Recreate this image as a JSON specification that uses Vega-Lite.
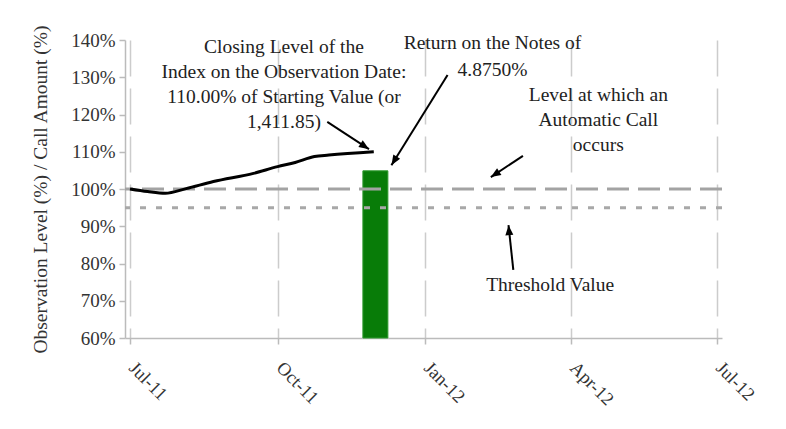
{
  "$schema": "https://vega.github.io/schema/vega-lite/v6.json",
  "width": 597,
  "height": 298,
  "autosize": {"type": "none"},
  "padding": {"left": 125, "top": 40, "right": 64, "bottom": 91},
  "background": "white",
  "config": {
    "view": {"stroke": null},
    "font": "'Liberation Serif', 'Times New Roman', serif",
    "axisY": {
      "titleFont": "'Liberation Serif', 'Times New Roman', serif",
      "titleFontSize": 19.5,
      "titleFontWeight": "normal",
      "titleColor": "#333333",
      "titlePadding": 20,
      "labelFontSize": 19,
      "labelColor": "#333333",
      "labelFont": "'Liberation Serif', 'Times New Roman', serif",
      "labelOverlap": false,
      "labelPadding": 4,
      "domainColor": "#bbbbbb",
      "domainWidth": 1.5,
      "tickColor": "#bbbbbb",
      "tickSize": 6,
      "tickWidth": 1.5,
      "grid": false
    },
    "axisX": {
      "labelAngle": 45,
      "labelAlign": "left",
      "labelBaseline": "top",
      "labelPadding": 14,
      "labelOffset": 8,
      "labelFontSize": 18.5,
      "labelColor": "#333333",
      "labelFont": "'Liberation Serif', 'Times New Roman', serif",
      "labelOverlap": false,
      "domainColor": "#bbbbbb",
      "domainWidth": 1.5,
      "tickColor": "#bbbbbb",
      "tickSize": 6,
      "tickWidth": 1.5,
      "grid": true,
      "gridColor": "#cccccc",
      "gridWidth": 1.5,
      "gridDash": [36, 12]
    }
  },
  "datasets": {
    "index": [
      {"date": "2011-07-01", "value": 100.0},
      {"date": "2011-07-12", "value": 99.3},
      {"date": "2011-07-23", "value": 98.85},
      {"date": "2011-08-05", "value": 100.1},
      {"date": "2011-08-22", "value": 102.0},
      {"date": "2011-09-16", "value": 104.2},
      {"date": "2011-10-01", "value": 106.0},
      {"date": "2011-10-12", "value": 107.1},
      {"date": "2011-10-24", "value": 108.7},
      {"date": "2011-11-02", "value": 109.1},
      {"date": "2011-11-30", "value": 110.0}
    ],
    "levels": [
      {"level": 100, "name": "Automatic call level"},
      {"level": 95, "name": "Threshold value"}
    ],
    "bar": [{"date": "2011-12-01", "value": 104.875}],
    "labels": [
      {"date": "2011-10-05", "value": 138.1, "text": "Closing Level of the"},
      {"date": "2011-10-05", "value": 131.4, "text": "Index on the Observation Date:"},
      {"date": "2011-10-05", "value": 124.7, "text": "110.00% of Starting Value (or"},
      {"date": "2011-10-05", "value": 118.0, "text": "1,411.85)"},
      {"date": "2012-02-12", "value": 139.2, "text": "Return on the Notes of"},
      {"date": "2012-02-12", "value": 131.9, "text": "4.8750%"},
      {"date": "2012-04-18", "value": 125.2, "text": "Level at which an"},
      {"date": "2012-04-18", "value": 118.5, "text": "Automatic Call"},
      {"date": "2012-04-18", "value": 111.8, "text": "occurs"},
      {"date": "2012-03-19", "value": 74.2, "text": "Threshold Value"}
    ],
    "arrows": [
      {"x1": "2011-11-01", "y1": 118.0, "x2": "2011-11-27", "y2": 110.7, "angle": 123},
      {"x1": "2012-01-15", "y1": 130.6, "x2": "2011-12-11", "y2": 106.4, "angle": 212},
      {"x1": "2012-03-02", "y1": 108.9, "x2": "2012-02-11", "y2": 103.2, "angle": 237},
      {"x1": "2012-02-25", "y1": 78.3, "x2": "2012-02-22", "y2": 90.3, "angle": 355}
    ]
  },
  "layer": [
    {
      "data": {"name": "bar"},
      "mark": {"type": "bar", "width": 25, "fill": "#087c08", "stroke": "#2f9a2f", "strokeWidth": 1},
      "encoding": {
        "x": {
          "field": "date", "type": "temporal",
          "scale": {"type": "utc", "domain": [{"year": 2011, "month": 7, "date": 1, "utc": true}, {"year": 2012, "month": 7, "date": 1, "utc": true}]},
          "axis": {
            "title": null,
            "values": [
              {"year": 2011, "month": 7, "date": 1, "utc": true},
              {"year": 2011, "month": 10, "date": 1, "utc": true},
              {"year": 2012, "month": 1, "date": 1, "utc": true},
              {"year": 2012, "month": 4, "date": 1, "utc": true},
              {"year": 2012, "month": 7, "date": 1, "utc": true}
            ],
            "format": "%b-%y"
          }
        },
        "y": {
          "field": "value", "type": "quantitative",
          "scale": {"domain": [60, 140], "nice": false, "zero": false},
          "axis": {"title": "Observation Level (%) / Call Amount (%)", "values": [60, 70, 80, 90, 100, 110, 120, 130, 140], "labelExpr": "datum.value + '%'"}
        },
        "y2": {"datum": 60}
      }
    },
    {
      "data": {"name": "levels"},
      "mark": {"type": "rule", "strokeWidth": 3},
      "encoding": {
        "y": {"field": "level", "type": "quantitative", "axis": {"title": "Observation Level (%) / Call Amount (%)", "values": [60, 70, 80, 90, 100, 110, 120, 130, 140], "labelExpr": "datum.value + '%'"}},
        "color": {"field": "name", "type": "nominal", "scale": {"domain": ["Automatic call level", "Threshold value"], "range": ["#a3a3a3", "#a8a8a8"]}, "legend": null},
        "strokeDash": {"field": "name", "type": "nominal", "scale": {"domain": ["Automatic call level", "Threshold value"], "range": [[22, 9], [6, 10]]}, "legend": null}
      }
    },
    {
      "data": {"name": "index"},
      "mark": {"type": "line", "color": "#000000", "strokeWidth": 3, "interpolate": "monotone"},
      "encoding": {
        "x": {"field": "date", "type": "temporal"},
        "y": {"field": "value", "type": "quantitative", "axis": {"title": "Observation Level (%) / Call Amount (%)", "values": [60, 70, 80, 90, 100, 110, 120, 130, 140], "labelExpr": "datum.value + '%'"}}
      }
    },
    {
      "data": {"name": "arrows"},
      "mark": {"type": "rule", "color": "#000000", "strokeWidth": 2},
      "encoding": {
        "x": {"field": "x1", "type": "temporal"},
        "y": {"field": "y1", "type": "quantitative", "axis": {"title": "Observation Level (%) / Call Amount (%)", "values": [60, 70, 80, 90, 100, 110, 120, 130, 140], "labelExpr": "datum.value + '%'"}},
        "x2": {"field": "x2"},
        "y2": {"field": "y2"}
      }
    },
    {
      "data": {"name": "arrows"},
      "mark": {"type": "point", "filled": true, "color": "#000000", "opacity": 1, "shape": "M0,0L-0.8,2L0.8,2Z", "size": 100},
      "encoding": {
        "x": {"field": "x2", "type": "temporal"},
        "y": {"field": "y2", "type": "quantitative", "axis": {"title": "Observation Level (%) / Call Amount (%)", "values": [60, 70, 80, 90, 100, 110, 120, 130, 140], "labelExpr": "datum.value + '%'"}},
        "angle": {"field": "angle", "type": "quantitative", "scale": null}
      }
    },
    {
      "data": {"name": "labels"},
      "mark": {"type": "text", "font": "'Liberation Serif', 'Times New Roman', serif", "fontSize": 19.5, "color": "#222222", "align": "center", "baseline": "middle"},
      "encoding": {
        "x": {"field": "date", "type": "temporal"},
        "y": {"field": "value", "type": "quantitative", "axis": {"title": "Observation Level (%) / Call Amount (%)", "values": [60, 70, 80, 90, 100, 110, 120, 130, 140], "labelExpr": "datum.value + '%'"}},
        "text": {"field": "text", "type": "nominal"}
      }
    }
  ]
}
